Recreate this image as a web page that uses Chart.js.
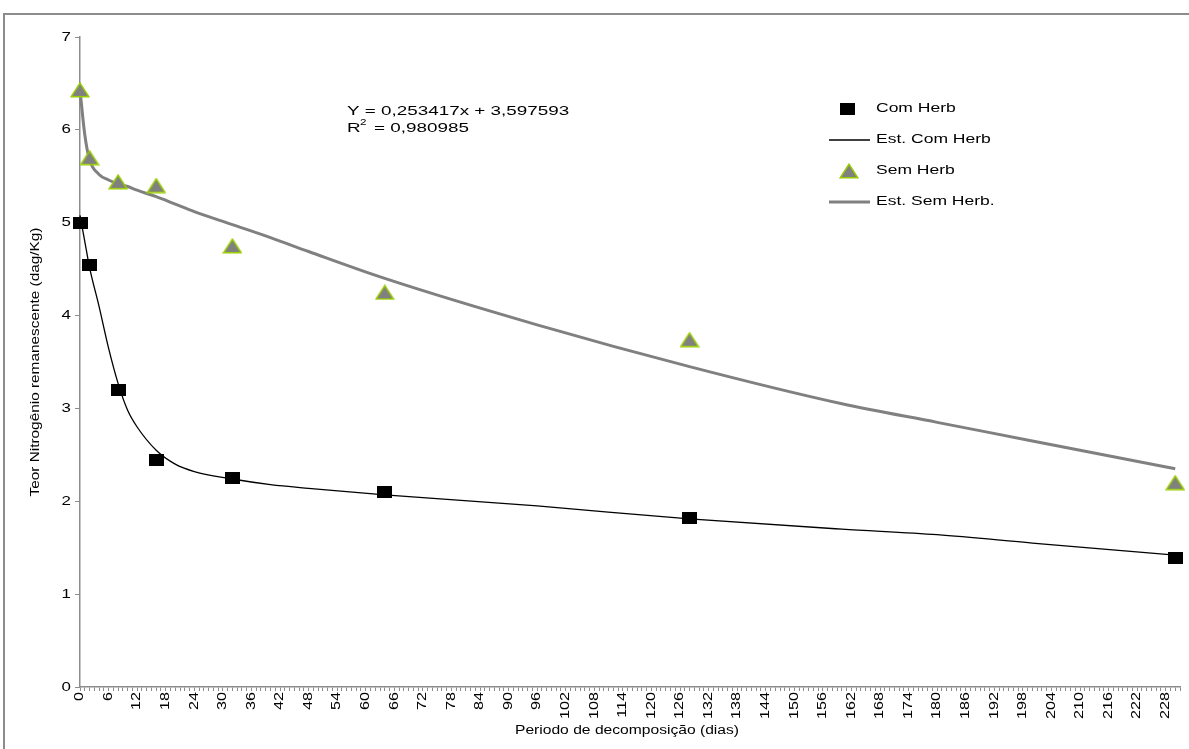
<!DOCTYPE html>
<html>
<head>
<meta charset="utf-8">
<script src="https://cdn.jsdelivr.net/npm/chart.js@4.4.0/dist/chart.umd.min.js"></script>
<style>
  html, body { margin: 0; padding: 0; background: #fff; overflow: hidden; }
  #moldura { position: absolute; left: 3px; top: 13px; width: 1200px; height: 760px; border: 2px solid #8c8c8c; box-sizing: border-box; }
  #graf { position: absolute; left: 0; top: 0; }
</style>
</head>
<body>
<div id="moldura"></div>
<canvas id="graf" width="1189" height="749"></canvas>
<script>
// dados
const dias = [0, 2, 8, 16, 32, 64, 128, 230];
const comHerb = [5.0, 4.55, 3.2, 2.45, 2.25, 2.1, 1.82, 1.39];
const semHerb = [6.43, 5.7, 5.44, 5.4, 4.75, 4.25, 3.74, 2.2];

// curvas estimadas (lidas ponto a ponto)
const diasEst = [0, 1, 2, 4, 6, 8, 10, 12, 16, 20, 24, 32, 40, 48, 64, 96, 128, 160, 180, 200, 230];
const estComHerb = [5.08, 4.8, 4.52, 4.1, 3.65, 3.27, 2.98, 2.8, 2.55, 2.4, 2.32, 2.24, 2.18, 2.14, 2.07, 1.95, 1.81, 1.7, 1.64, 1.55, 1.42];
const estSemHerb = [6.43, 5.95, 5.68, 5.52, 5.46, 5.42, 5.39, 5.35, 5.28, 5.2, 5.12, 4.98, 4.84, 4.69, 4.4, 3.9, 3.45, 3.05, 2.85, 2.65, 2.35];

const rotulos = ["Com Herb", "Est. Com Herb", "Sem Herb", "Est. Sem Herb."];
const equacao = ["Y = 0,253417x + 3,597593", "0,980985"];
const tituloX = "Periodo de decomposição (dias)";
const tituloY = "Teor Nitrogênio remanescente (dag/Kg)";

const FONTE = '"Liberation Sans", Arial, sans-serif';

function pares(xs, ys) {
    return xs.map(function(x, i) { return { x: x, y: ys[i] }; });
}

// marcadores (quadrado achatado e triângulo cinza com borda verde)
function quadrado() {
    const c = document.createElement("canvas");
    c.width = 15; c.height = 12;
    const g = c.getContext("2d");
    g.fillStyle = "#000";
    g.fillRect(0, 0, 15, 12);
    return c;
}
function triangulo() {
    const c = document.createElement("canvas");
    c.width = 20; c.height = 16;
    const g = c.getContext("2d");
    g.beginPath();
    g.moveTo(10, 1.2);
    g.lineTo(18.8, 14.8);
    g.lineTo(1.2, 14.8);
    g.closePath();
    g.fillStyle = "#808080";
    g.fill();
    g.strokeStyle = "#99cc00";
    g.lineWidth = 1.5;
    g.stroke();
    return c;
}
const mQuad = quadrado();
const mTri = triangulo();

// texto "largo" como no original
function texto(ctx, t, x, y, px, sx, align, rot) {
    ctx.save();
    ctx.translate(x, y);
    if (rot) ctx.rotate(rot);
    ctx.scale(sx, 1);
    ctx.font = px + "px " + FONTE;
    ctx.textAlign = align;
    ctx.textBaseline = "middle";
    ctx.fillStyle = "#000";
    ctx.fillText(t, 0, 0);
    ctx.restore();
}

const extras = {
    id: "extras",
    afterDraw: function(chart) {
        const ctx = chart.ctx;
        const sx = chart.scales.x, sy = chart.scales.y;

        // rótulos do eixo X (a cada 6 dias)
        sx.ticks.forEach(function(t) {
            if (t.value % 6 !== 0) return;
            texto(ctx, String(t.value), sx.getPixelForValue(t.value), 692, 12, 1.35, "right", -Math.PI / 2);
        });
        // rótulos do eixo Y
        sy.ticks.forEach(function(t) {
            texto(ctx, String(t.value), 71, sy.getPixelForValue(t.value), 13, 1.3, "right");
        });

        texto(ctx, tituloX, 627, 731, 12.5, 1.25, "center");
        texto(ctx, tituloY, 36, 362, 12, 1.28, "center", -Math.PI / 2);

        // equação
        texto(ctx, equacao[0], 347, 111, 13, 1.45, "left");
        texto(ctx, "R", 347, 128, 13, 1.45, "left");
        texto(ctx, "2", 360, 123, 9, 1.3, "left");
        texto(ctx, "= " + equacao[1], 374, 128, 13, 1.45, "left");

        // legenda
        const ly = [109, 140, 171, 202];
        ctx.drawImage(mQuad, 847 - 7.5, ly[0] - 6);
        ctx.drawImage(mTri, 849 - 10, ly[2] - 8);
        ctx.strokeStyle = "#000";
        ctx.lineWidth = 1.3;
        ctx.beginPath(); ctx.moveTo(829, ly[1]); ctx.lineTo(870, ly[1]); ctx.stroke();
        ctx.strokeStyle = "#808080";
        ctx.lineWidth = 3;
        ctx.beginPath(); ctx.moveTo(829, ly[3]); ctx.lineTo(870, ly[3]); ctx.stroke();
        rotulos.forEach(function(r, i) {
            texto(ctx, r, 876, ly[i], 12.5, 1.4, "left");
        });
    }
};

const ctx = document.getElementById("graf").getContext("2d");
new Chart(ctx, {
    type: "line",
    data: {
        datasets: [
            { label: rotulos[0], data: pares(dias, comHerb), showLine: false, pointStyle: mQuad, pointRadius: 7, pointHoverRadius: 7, clip: false },
            { label: rotulos[2], data: pares(dias, semHerb), showLine: false, pointStyle: mTri, pointRadius: 8, pointHoverRadius: 8, clip: false },
            { label: rotulos[1], data: pares(diasEst, estComHerb), borderColor: "#000", borderWidth: 1.3, pointRadius: 0, cubicInterpolationMode: "monotone", fill: false, clip: false },
            { label: rotulos[3], data: pares(diasEst, estSemHerb), borderColor: "#808080", borderWidth: 3, pointRadius: 0, cubicInterpolationMode: "monotone", fill: false, clip: false }
        ]
    },
    options: {
        responsive: false,
        animation: false,
        events: [],
        layout: { padding: { top: 37, left: 0, right: 9, bottom: 0 } },
        plugins: { legend: { display: false }, tooltip: { enabled: false } },
        scales: {
            x: {
                type: "linear",
                min: 0,
                max: 231,
                ticks: { stepSize: 1, autoSkip: false, display: false },
                grid: { drawOnChartArea: false, drawTicks: true, tickLength: 4, color: "#8c8c8c" },
                border: { color: "#8c8c8c", width: 1.5 },
                afterFit: function(s) { s.height = 62; }
            },
            y: {
                min: 0,
                max: 7,
                ticks: { stepSize: 1, display: false },
                grid: { drawOnChartArea: false, drawTicks: true, tickLength: 5, color: "#8c8c8c" },
                border: { color: "#8c8c8c", width: 1.5 },
                afterFit: function(s) { s.width = 80; }
            }
        }
    },
    plugins: [extras]
});
</script>
</body>
</html>
